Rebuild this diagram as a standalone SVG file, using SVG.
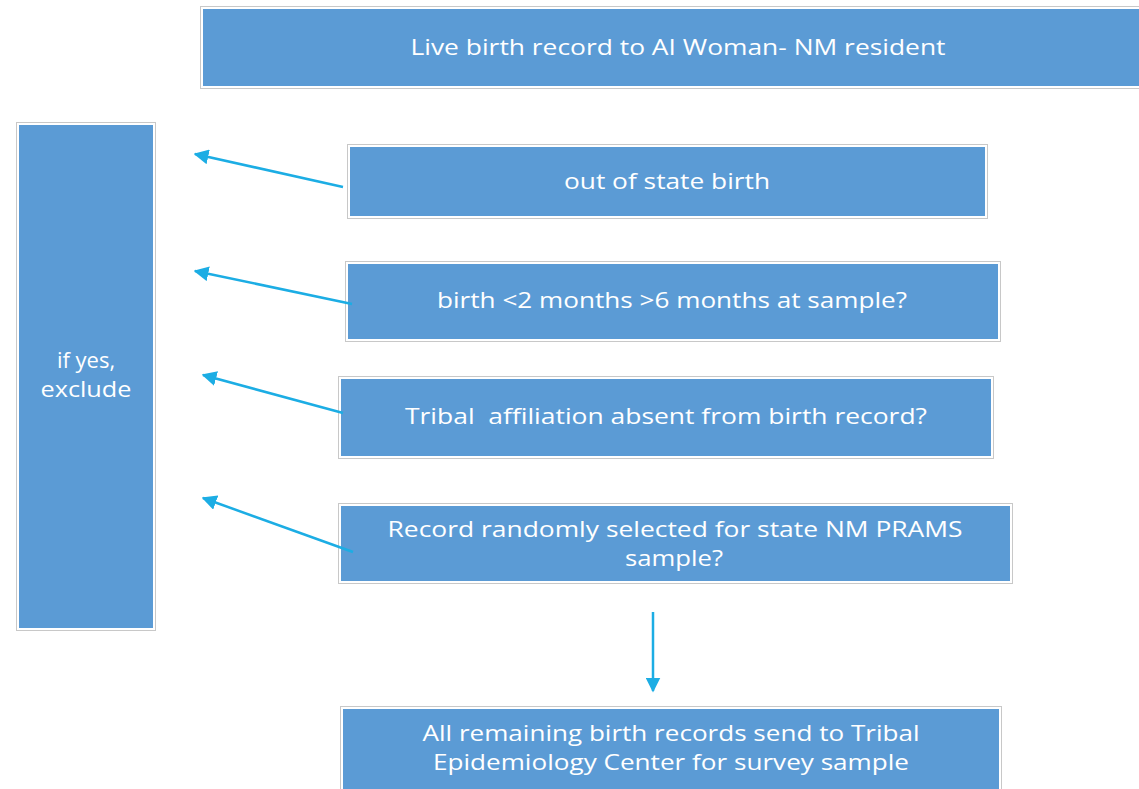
<svg xmlns="http://www.w3.org/2000/svg" width="1139" height="789" viewBox="0 0 1139 789">
<style>
.box{fill:#5B9BD5;stroke:#FFFFFF;stroke-width:2}
.frame{fill:none;stroke:#C8C8C8;stroke-width:1}
.t{font-family:"Open Sans","Liberation Sans",sans-serif;font-size:22px;fill:#FFFFFF;text-anchor:middle}
.c{stroke:#1CADE4;stroke-width:2.5;fill:none;marker-end:url(#ah)}
</style>
<defs>
<marker id="ah" viewBox="0 0 10 10" refX="9" refY="5" markerWidth="6" markerHeight="6" markerUnits="strokeWidth" orient="auto">
<path d="M0,0 L10,5 L0,10 Z" fill="#1CADE4"/>
</marker>
</defs>
<rect width="1139" height="789" fill="#FFFFFF"/>
<g id="n-top">
<rect class="frame" x="200.5" y="6.5" width="945" height="82"/>
<rect class="box" x="202" y="8" width="945" height="79"/>
<text class="t" x="678" y="55" textLength="535" lengthAdjust="spacingAndGlyphs">Live birth record to AI Woman- NM resident</text>
</g>
<g id="n-exclude">
<rect class="frame" x="16.5" y="122.5" width="139" height="508"/>
<rect class="box" x="18" y="124" width="136" height="505"/>
<text class="t" x="86" y="368">if yes,</text>
<text class="t" x="86" y="397" textLength="91" lengthAdjust="spacingAndGlyphs">exclude</text>
</g>
<g id="n-oos">
<rect class="frame" x="347.5" y="144.5" width="640" height="74"/>
<rect class="box" x="349" y="146" width="637" height="71"/>
<text class="t" x="667" y="189" textLength="206" lengthAdjust="spacingAndGlyphs">out of state birth</text>
</g>
<g id="n-months">
<rect class="frame" x="345.5" y="261.5" width="655" height="80"/>
<rect class="box" x="347" y="263" width="652" height="77"/>
<text class="t" x="672" y="308" textLength="470" lengthAdjust="spacingAndGlyphs">birth &lt;2 months &gt;6 months at sample?</text>
</g>
<g id="n-tribal">
<rect class="frame" x="338.5" y="376.5" width="655" height="82"/>
<rect class="box" x="340" y="378" width="652" height="79"/>
<text class="t" x="666" y="424" textLength="522" lengthAdjust="spacingAndGlyphs" xml:space="preserve">Tribal  affiliation absent from birth record?</text>
</g>
<g id="n-prams">
<rect class="frame" x="338.5" y="503.5" width="674" height="80"/>
<rect class="box" x="340" y="505" width="671" height="77"/>
<text class="t" x="675" y="537" textLength="575" lengthAdjust="spacingAndGlyphs">Record randomly selected for state NM PRAMS</text>
<text class="t" x="674" y="566" textLength="98" lengthAdjust="spacingAndGlyphs">sample?</text>
</g>
<g id="n-remaining">
<rect class="frame" x="340.5" y="706.5" width="661" height="90"/>
<rect class="box" x="342" y="708" width="658" height="88"/>
<text class="t" x="671" y="741" textLength="497" lengthAdjust="spacingAndGlyphs">All remaining birth records send to Tribal</text>
<text class="t" x="671" y="770" textLength="476" lengthAdjust="spacingAndGlyphs">Epidemiology Center for survey sample</text>
</g>
<g id="connectors">
<line class="c" x1="343" y1="187" x2="195" y2="154"/>
<line class="c" x1="352" y1="304" x2="195" y2="271"/>
<line class="c" x1="343" y1="413" x2="203" y2="375"/>
<line class="c" x1="353" y1="552" x2="203" y2="498"/>
<line class="c" x1="653" y1="612" x2="653" y2="691"/>
</g>
</svg>
